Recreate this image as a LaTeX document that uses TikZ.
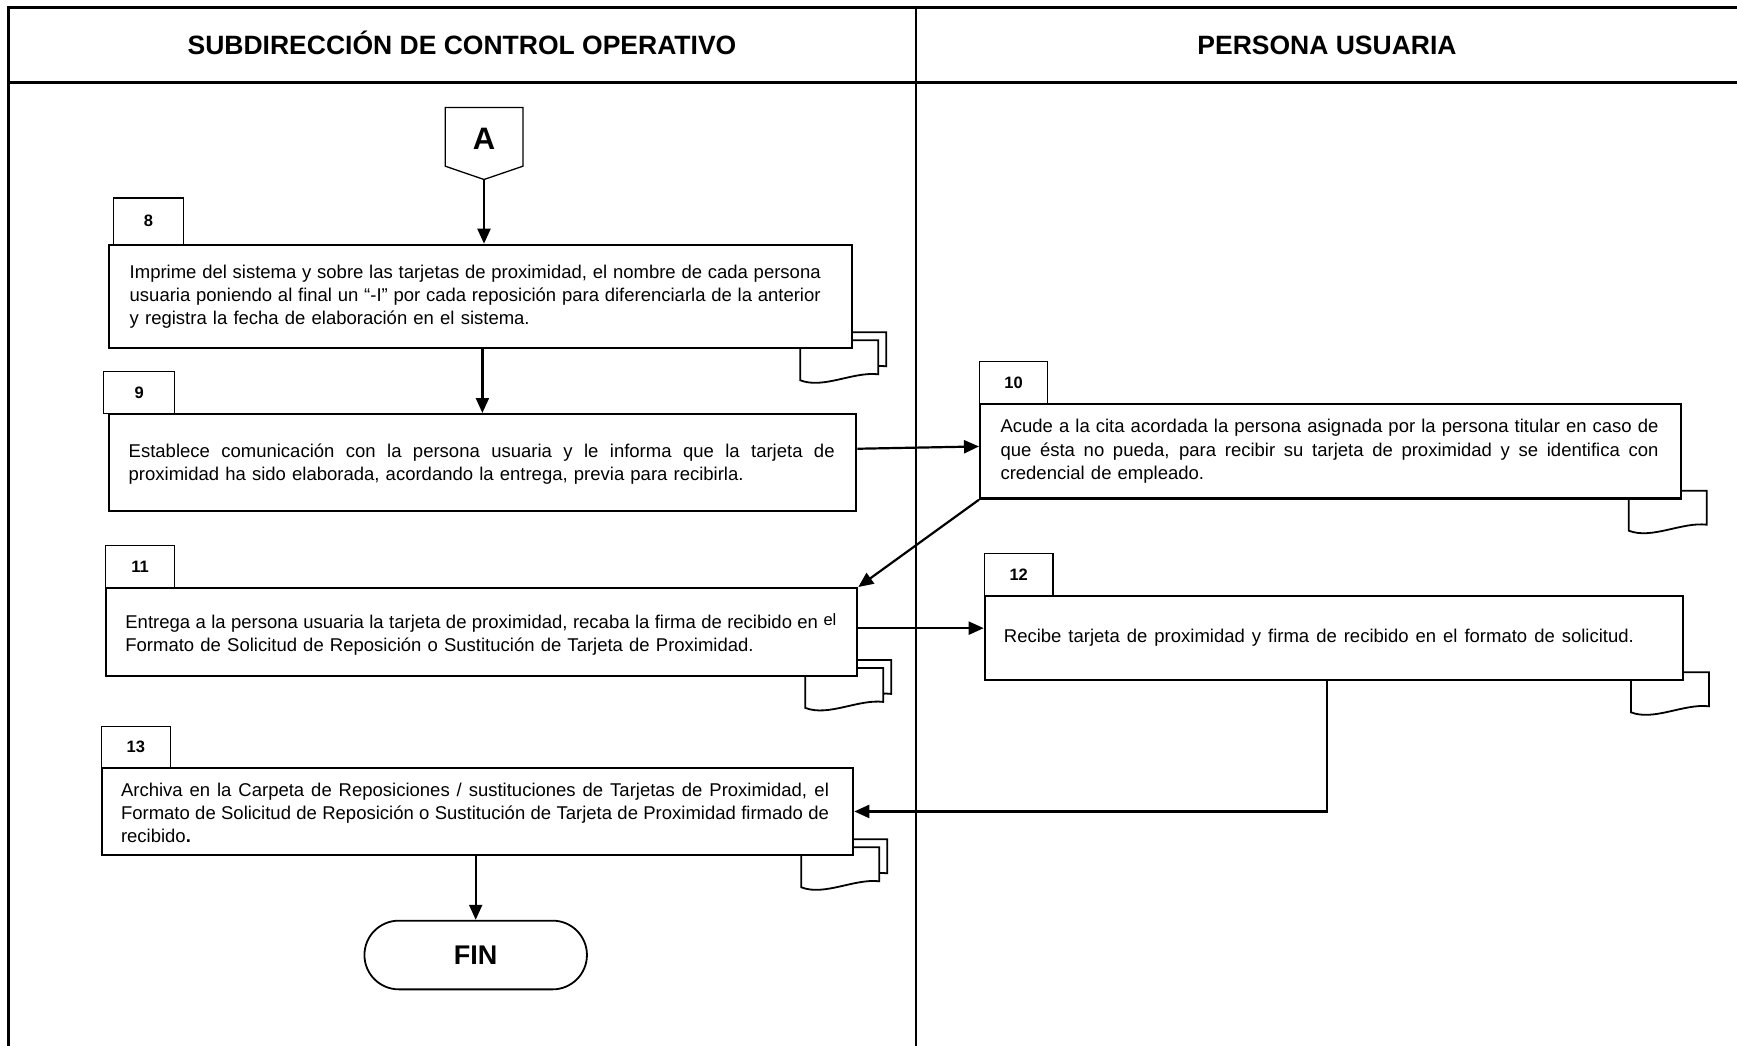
\documentclass[tikz,border=0pt]{standalone}
\usepackage{fontspec}
\setmainfont{Liberation Sans}
\usetikzlibrary{arrows.meta,shapes.misc}
\pgfdeclarelayer{back}
\pgfsetlayers{back,main}
% one justified line of a step description, stretched to the given width
% (\spaceskip is reset so the font's stretchable interword glue is used)
\newcommand{\jline}[2]{\makebox[#1][s]{\spaceskip=0pt\relax #2}\\}
\begin{document}
\begin{tikzpicture}[x=1pt,y=-1pt,
  frame/.style={line width=2.7pt},
  lane/.style={line width=1.6pt},
  head/.style={anchor=base,font=\fontsize{26.5}{30}\selectfont\bfseries},
  stepbox/.style={draw,fill=white,line width=2.3pt,anchor=north west,inner sep=0pt},
  tabbox/.style={draw,fill=white,line width=1.3pt,anchor=north west,inner sep=0pt,
    font=\fontsize{16.5}{18}\selectfont\bfseries},
  steptext/.style={anchor=west,inner sep=0pt,align=left,
    font=\fontsize{18.5}{23.2}\selectfont},
  flow/.style={line width=2.2pt,-{Triangle[length=15pt,width=13pt]}},
  docline/.style={line width=1.8pt,fill=white},
  docpage/.pic={\draw[docline] (-53,-9) -- (25,-9) -- (25,25)
      .. controls (0,22) and (-30,40) .. (-53,31) -- cycle;},
  docpair/.pic={\draw[docline] (-45,-17) -- (33,-17) -- (33,17)
      .. controls (8,14) and (-22,32) .. (-45,23) -- cycle;
    \draw[docline] (-53,-9) -- (25,-9) -- (25,25)
      .. controls (0,22) and (-30,40) .. (-53,31) -- cycle;},
]
\useasboundingbox (0,0) rectangle (1737,1046);

% swimlane frame
\draw[frame] (8.7,1046) -- (8.7,7.5) -- (1737,7.5);
\draw[frame] (8.7,82.3) -- (1737,82.3);
\draw[lane] (916,7.5) -- (916,1046);
\node[head] (h1) at (462,54.8) {SUBDIRECCIÓN DE CONTROL OPERATIVO};
\node[head] (h2) at (1327,54.8) {PERSONA USUARIA};

% off-page connector A
\draw[line width=1.3pt] (445.3,107.5) -- (522.9,107.5) -- (522.9,166.2)
  -- (484,179.5) -- (445.3,166.2) -- cycle;
\node[font=\fontsize{31}{34}\selectfont\bfseries] (A) at (484,138.5) {A};
\coordinate (atip) at (484,179.5);

% steps
\node[stepbox,minimum width=743.5pt,minimum height=103.3pt] (b8) at (107.5,243.7) {};
\node[stepbox,minimum width=747.5pt,minimum height=96.6pt] (b9) at (107.5,413) {};
\node[stepbox,minimum width=700.5pt,minimum height=94.4pt] (b10) at (979,403) {};
\node[stepbox,minimum width=751pt,minimum height=87.6pt] (b11) at (105,587) {};
\node[stepbox,minimum width=697.9pt,minimum height=84pt] (b12) at (983.7,595) {};
\node[stepbox,minimum width=751.2pt,minimum height=87.4pt] (b13) at (100.8,766.6) {};

% document symbols behind the steps
\begin{pgfonlayer}{back}
  \pic at (b8.south east) {docpair};
  \pic at (b10.south east) {docpage};
  \pic at (b11.south east) {docpair};
  \pic at (b12.south east) {docpage};
  \pic at (b13.south east) {docpair};
\end{pgfonlayer}

% step number tabs
\node[tabbox,minimum width=69.8pt,minimum height=46.5pt] (n8) at (113,197.2) {8};
\node[tabbox,minimum width=71pt,minimum height=42pt] (n9) at (103,371) {9};
\node[tabbox,minimum width=68pt,minimum height=42pt] (n10) at (979,361) {10};
\node[tabbox,minimum width=69pt,minimum height=42pt] (n11) at (105,545) {11};
\node[tabbox,minimum width=68.7pt,minimum height=42.2pt] (n12) at (983.7,552.8) {12};
\node[tabbox,minimum width=68.7pt,minimum height=41pt] (n13) at (100.8,725.6) {13};

% step descriptions
\node[steptext,text width=691pt] (t8) at ([xshift=22pt]b8.west) {%
  \jline{691pt}{Imprime del sistema y sobre las tarjetas de proximidad, el nombre de cada persona}%
  \jline{691pt}{usuaria poniendo al final un “-I” por cada reposición para diferenciarla de la anterior}%
  y registra la fecha de elaboración en el sistema.};
\node[steptext,text width=706pt] (t9) at ([xshift=21pt,yshift=-2pt]b9.west) {%
  \jline{706pt}{Establece comunicación con la persona usuaria y le informa que la tarjeta de}%
  proximidad ha sido elaborada, acordando la entrega, previa para recibirla.};
\node[steptext,text width=658pt] (t10) at ([xshift=21.3pt]b10.west) {%
  \jline{658pt}{Acude a la cita acordada la persona asignada por la persona titular en caso de}%
  \jline{658pt}{que ésta no pueda, para recibir su tarjeta de proximidad y se identifica con}%
  credencial de empleado.};
\node[steptext,text width=711pt] (t11) at ([xshift=20.2pt,yshift=-2.5pt]b11.west) {%
  \jline{711pt}{Entrega a la persona usuaria la tarjeta de proximidad, recaba la firma de recibido en \raisebox{3pt}{\fontsize{16.5}{18}\selectfont el}}%
  Formato de Solicitud de Reposición o Sustitución de Tarjeta de Proximidad.};
\node[steptext,text width=630pt] (t12) at ([xshift=20pt]b12.west) {%
  \makebox[630pt][s]{\spaceskip=0pt\relax Recibe tarjeta de proximidad y firma de recibido en el formato de solicitud.}};
\node[steptext,text width=708pt] (t13) at ([xshift=20pt,yshift=-1.5pt]b13.west) {%
  \jline{708pt}{Archiva en la Carpeta de Reposiciones / sustituciones de Tarjetas de Proximidad, el}%
  \jline{708pt}{Formato de Solicitud de Reposición o Sustitución de Tarjeta de Proximidad firmado de}%
  recibido\textbf{.}};

% terminator
\node[draw,rounded rectangle,line width=1.8pt,minimum width=222.5pt,minimum height=68.7pt,
  inner sep=0pt,font=\fontsize{27}{30}\selectfont\bfseries] (fin) at (475.7,955) {FIN};

% flow
\draw[flow] (atip) -- (atip |- b8.north);
\draw[flow] (b9.north |- b8.south) -- (b9.north);
\draw[flow] ([yshift=13.7pt]b9.east) -- ([yshift=4.9pt]b10.west);
\draw[flow] (b10.south west) -- (b11.north east);
\draw[flow] ([yshift=3.8pt]b11.east) -- ([yshift=3.8pt]b11.east -| b12.west);
\draw[flow] ([xshift=-7pt]b12.south) |- (b13.east);
\draw[flow] (fin.north |- b13.south) -- (fin.north);
\end{tikzpicture}
\end{document}
